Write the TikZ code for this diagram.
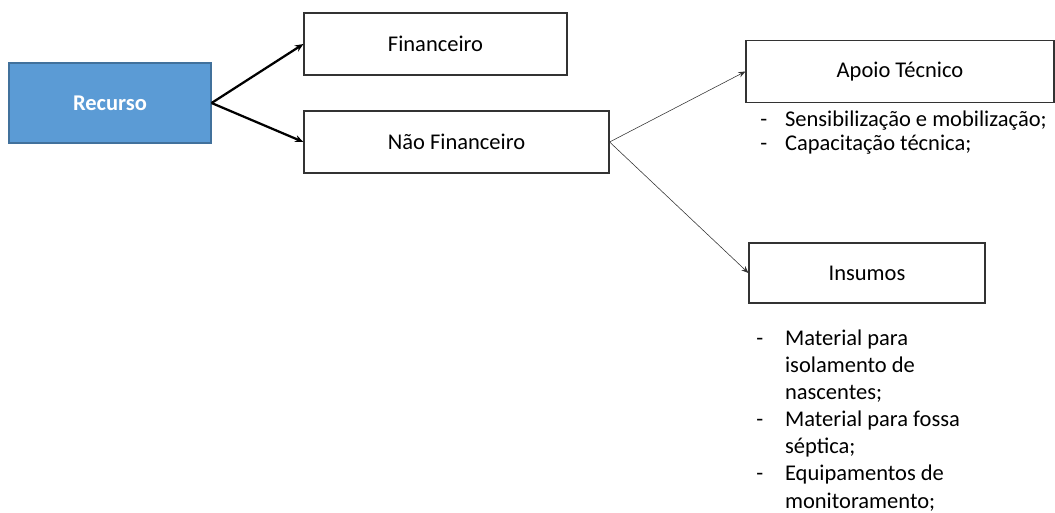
\documentclass[tikz,border=0pt]{standalone}
\usepackage{fontspec}
\setmainfont{Carlito}
\usetikzlibrary{positioning, calc, arrows.meta}

\begin{document}
\begin{tikzpicture}[
  x=0.025cm, y=-0.025cm,
  %% caixa principal (azul)
  rbox/.style={
    rectangle, draw={rgb,255:red,65;green,113;blue,156}, thick,
    fill={rgb,255:red,91;green,155;blue,213},
    minimum width=5.05cm, minimum height=2.0cm,
    font=\fontsize{16}{19}\selectfont\bfseries, text=white
  },
  %% caixas brancas
  wbox/.style={
    rectangle, draw=black!80, thick, fill=white,
    minimum height=1.55cm, align=center,
    font=\fontsize{16}{19}\selectfont
  },
  %% listas abaixo das caixas
  lst/.style={anchor=north west, inner sep=0pt, align=left,
    font=\fontsize{16}{19}\selectfont},
  %% setas
  arr/.style={-{Stealth[length=6pt,width=5pt]}, line width=1.6pt},
  tarr/.style={-{Stealth[length=5pt,width=4pt]}, line width=0.4pt, black!80}
]
\useasboundingbox (0,0) rectangle (1055,513);

%% ================================================================
%% CAIXAS
%% ================================================================
\node[rbox] (recurso) at (110,103) {Recurso};

\node[wbox, minimum width=6.575cm] (fin) at (435.5,44) {Financeiro};
\node[wbox, minimum width=7.625cm] (naofin) at (456.5,142) {Não Financeiro};

\node[wbox, minimum width=7.7cm] (apoio) at (900,71.5) {Apoio Técnico};
\node[wbox, minimum width=5.9cm, minimum height=1.5cm] (insumos) at (867,273) {Insumos};

%% ================================================================
%% SETAS
%% ================================================================
\draw[arr] (recurso.east) -- (fin.west);
\draw[arr] (recurso.east) -- (naofin.west);

\draw[tarr] (naofin.east) -- (apoio.west);
\draw[tarr] (naofin.east) -- (insumos.west);

%% ================================================================
%% LISTAS
%% ================================================================
\node[lst] (lapoio) at (760,108) {%
  \begin{tabular}{@{}p{0.62cm}@{}l@{}}
    - & Sensibilização e mobilização;\\[-2pt]
    - & Capacitação técnica;
  \end{tabular}};

\node[lst, font=\fontsize{16}{19.3}\selectfont] (linsumos) at (756,326) {%
  \begin{tabular}{@{}p{0.72cm}@{}l@{}}
    - & Material para\\
      & isolamento de\\
      & nascentes;\\
    - & Material para fossa\\
      & séptica;\\
    - & Equipamentos de\\
      & monitoramento;
  \end{tabular}};

\end{tikzpicture}
\end{document}
